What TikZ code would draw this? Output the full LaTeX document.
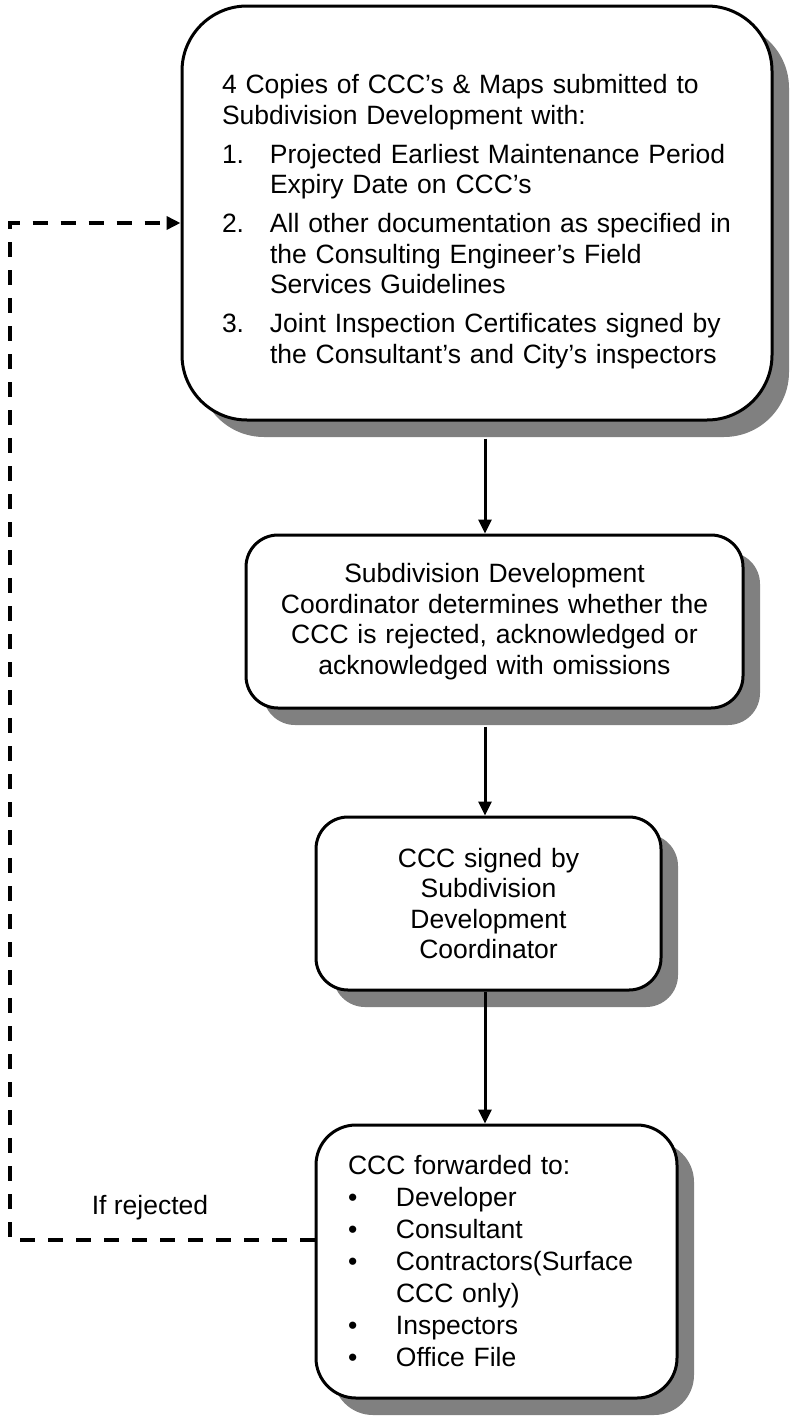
\documentclass[tikz,border=0pt]{standalone}
\usepackage{fontspec}
\setmainfont{Liberation Sans}
\usepackage{tikz}
\usetikzlibrary{calc,positioning,arrows.meta,shadows}

\definecolor{shadowgray}{RGB}{128,128,128}

\begin{document}
\begin{tikzpicture}[x=1pt,y=-1pt,
		font=\fontsize{26.5}{30.5}\selectfont,
		box/.style={draw,line width=3pt,fill=white,rounded corners=#1,
			drop shadow={shadow xshift=17pt,shadow yshift=-17pt,fill=shadowgray,opacity=1}},
		flow/.style={line width=3pt,-{Triangle[length=14pt,width=13pt]}},
		reject/.style={line width=3.5pt,dash pattern=on 15pt off 13pt,-{Triangle[length=14pt,width=13pt]}}]
			\useasboundingbox (0,0) rectangle (790,1416);
			\node[box=65pt,minimum width=590pt,minimum height=414pt,inner xsep=40pt,text width=510pt,align=left] at (477,213) (submit) {\rule{0pt}{36pt}4 Copies of CCC’s \& Maps submitted to\\
				Subdivision Development with:\\[8.5pt]
				\makebox[48pt][l]{1.}Projected Earliest Maintenance Period\\
				\hspace*{48pt}Expiry Date on CCC’s\\[8.5pt]
				\makebox[48pt][l]{2.}All other documentation as specified in\\
				\hspace*{48pt}the Consulting Engineer’s Field\\
				\hspace*{48pt}Services Guidelines\\[8.5pt]
				\makebox[48pt][l]{3.}Joint Inspection Certificates signed by\\
				\hspace*{48pt}the Consultant’s and City’s inspectors};
			\node[box=32pt,minimum width=497pt,minimum height=173pt,text width=460pt,align=center] at (494.5,621.5) (review) {Subdivision Development\\
				Coordinator determines whether the\\
				CCC is rejected, acknowledged or\\
				acknowledged with omissions};
			\node[box=32pt,minimum width=345pt,minimum height=173pt,text width=300pt,align=center] at (488.5,903.5) (sign) {CCC signed by\\ Subdivision\\ Development\\ Coordinator};
			\node[box=40pt,minimum width=361pt,minimum height=273pt,inner xsep=32pt,text width=297pt,align=left,font=\fontsize{26.5}{32}\selectfont] at (496.5,1261.5) (forward) {CCC forwarded to:\\
				\makebox[48pt][l]{\textbullet}Developer\\
				\makebox[48pt][l]{\textbullet}Consultant\\
				\makebox[48pt][l]{\textbullet}Contractors(Surface\\
				\hspace*{48pt}CCC only)\\
				\makebox[48pt][l]{\textbullet}Inspectors\\
				\makebox[48pt][l]{\textbullet}Office File};
			\node at (150,1208) (iflabel) {If rejected};
			\coordinate (axis) at (485,0);
			\coordinate (back) at (10,223);
			\draw[flow] ($(submit.south -| axis)+(0,17)$) -- (review.north -| axis);
			\draw[flow] ($(review.south -| axis)+(0,17)$) -- (sign.north -| axis);
			\draw[flow] (sign.south -| axis) -- (forward.north -| axis);
			\draw[reject] ($(forward.west)+(0,-21.5)$) -| (back) -- (back -| submit.west);
		\end{tikzpicture}
\end{document}
